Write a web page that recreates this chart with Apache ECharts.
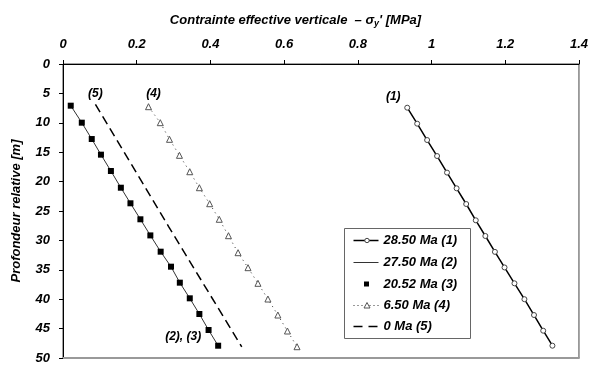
<!DOCTYPE html>
<html>
<head>
<meta charset="utf-8">
<script src="https://cdn.jsdelivr.net/npm/echarts@6/dist/echarts.min.js"></script>
<style>
  html, body { margin: 0; padding: 0; background: #fff; }
  #chart { width: 591px; height: 367px; }
</style>
</head>
<body>
<div id="chart"></div>
<script>
// values: stress [MPa] vs relative depth [m]
const depth1 = [7.43, 10.15, 12.93, 15.65, 18.47, 21.14, 23.81, 26.58, 29.25, 31.95, 34.6, 37.3, 40.0, 42.69, 45.36, 47.91];
const stress1 = [0.934, 0.961, 0.988, 1.015, 1.042, 1.068, 1.094, 1.120, 1.146, 1.172, 1.198, 1.225, 1.252, 1.278, 1.303, 1.328];

const depth2 = [7.09, 9.98, 12.76, 15.42, 18.2, 21.04, 23.69, 26.41, 29.15, 31.92, 34.47, 37.19, 39.85, 42.52, 45.24, 47.91];
const stress2 = [0.021, 0.051, 0.078, 0.103, 0.130, 0.157, 0.183, 0.210, 0.237, 0.265, 0.293, 0.317, 0.344, 0.370, 0.395, 0.421];

const depth3 = [7.09, 9.98, 12.76, 15.42, 18.2, 21.04, 23.69, 26.41, 29.15, 31.92, 34.47, 37.19, 39.85, 42.52, 45.24, 47.91];
const stress3 = [0.021, 0.051, 0.078, 0.103, 0.130, 0.157, 0.183, 0.210, 0.237, 0.265, 0.293, 0.317, 0.344, 0.370, 0.395, 0.421];

const depth4 = [7.26, 9.98, 12.81, 15.53, 18.32, 21.04, 23.76, 26.41, 29.2, 32.09, 34.64, 37.3, 39.97, 42.69, 45.41, 48.08];
const stress4 = [0.232, 0.264, 0.289, 0.316, 0.344, 0.370, 0.398, 0.424, 0.449, 0.475, 0.502, 0.529, 0.556, 0.583, 0.609, 0.635];

const depth5 = [6.86, 17.2, 27.7, 37.9, 48.1];
const stress5 = [0.088, 0.187, 0.287, 0.386, 0.485];

const seriesNames = ["28.50 Ma (1)", "27.50 Ma (2)", "20.52 Ma (3)", "6.50 Ma (4)", "0 Ma (5)"];
const xTicks = [0, 0.2, 0.4, 0.6, 0.8, 1, 1.2, 1.4];

const font = "'Liberation Sans', Arial, sans-serif";
const boldItalic = { fontFamily: font, fontWeight: "bold", fontStyle: "italic", color: "#000" };

function pairs(xs, ys) {
  return xs.map((x, i) => [x, ys[i]]);
}

// put a curve tag "(n)" next to one point of a series
function tagged(data, idx, text, offset) {
  return data.map((d, i) => i !== idx ? d : {
    value: d,
    label: Object.assign({
      show: true, formatter: text, position: "inside", offset: offset, fontSize: 12,
      textBorderWidth: 0, textBorderColor: "transparent", opacity: 1
    }, boldItalic)
  });
}

// hand-drawn legend box, like the spreadsheet one
const legX = 344, legY = 228, legW = 126, legH = 110;
const rowY = [12, 34, 55.5, 77, 98];
const iconL = 9, iconR = 34, textX = 39;
const legendParts = [
  { type: "rect", shape: { x: 0, y: 0, width: legW, height: legH }, style: { fill: "#fff", stroke: "#666", lineWidth: 1 } },
  { type: "line", shape: { x1: iconL, y1: rowY[0], x2: iconR, y2: rowY[0] }, style: { stroke: "#000", lineWidth: 1.5 } },
  { type: "circle", shape: { cx: 22.5, cy: rowY[0], r: 2.2 }, style: { fill: "#fff", stroke: "#444", lineWidth: 1 } },
  { type: "line", shape: { x1: iconL, y1: rowY[1], x2: iconR, y2: rowY[1] }, style: { stroke: "#333", lineWidth: 1 } },
  { type: "rect", shape: { x: 19.5, y: rowY[2] - 2.5, width: 5, height: 5 }, style: { fill: "#000" } },
  { type: "line", shape: { x1: iconL, y1: rowY[3], x2: iconR, y2: rowY[3] }, style: { stroke: "#333", lineWidth: 1, lineDash: [1, 3] } },
  { type: "polygon", shape: { points: [[22.5, rowY[3] - 3], [25.5, rowY[3] + 2.5], [19.5, rowY[3] + 2.5]] }, style: { fill: "#fff", stroke: "#555", lineWidth: 1 } },
  { type: "line", shape: { x1: iconL, y1: rowY[4], x2: iconR, y2: rowY[4] }, style: { stroke: "#000", lineWidth: 1.5, lineDash: [9, 6] } }
];
seriesNames.forEach((name, i) => {
  legendParts.push({
    type: "text", x: textX, y: rowY[i],
    style: { text: name, fontSize: 13, fill: "#000", verticalAlign: "middle", align: "left",
      fontFamily: font, fontWeight: "bold", fontStyle: "italic" }
  });
});

const chart = echarts.init(document.getElementById("chart"));

chart.setOption({
  animation: false,
  backgroundColor: "#fff",
  title: {
    text: "Contrainte effective verticale  – σ{s|y}' [MPa]",
    left: "center",
    top: 7,
    textStyle: Object.assign({ fontSize: 13 }, boldItalic, {
      rich: { s: Object.assign({ fontSize: 9, padding: [7, 0, 0, 0] }, boldItalic) }
    })
  },
  grid: {
    left: 63, top: 64, right: 6.5, bottom: 9,
    show: true, borderColor: "#444", borderWidth: 1
  },
  graphic: [{ type: "group", left: legX, top: legY, z: 100, children: legendParts }],
  xAxis: [{
    type: "value", position: "top",
    min: 0, max: 1.4, interval: 0.2,
    axisLine: { show: true, lineStyle: { color: "#000", width: 1 } },
    axisTick: { show: true, inside: false, length: 4, lineStyle: { color: "#000" } },
    splitLine: { show: false },
    axisLabel: Object.assign({
      margin: 13, fontSize: 13,
      formatter: v => String(xTicks.find(t => Math.abs(t - v) < 1e-9) ?? v)
    }, boldItalic)
  }, {
    type: "value", position: "bottom", min: 0, max: 1.4,
    axisLine: { show: true, lineStyle: { color: "#999", width: 2 } },
    axisTick: { show: false }, axisLabel: { show: false }, splitLine: { show: false }
  }],
  yAxis: {
    type: "value", inverse: true,
    min: 0, max: 50, interval: 5,
    name: "Profondeur relative [m]",
    nameLocation: "middle", nameGap: 40, nameRotate: 90,
    nameTextStyle: Object.assign({ fontSize: 13 }, boldItalic),
    axisLine: { show: true, lineStyle: { color: "#000", width: 1 } },
    axisTick: { show: true, inside: false, length: 4, lineStyle: { color: "#000" } },
    splitLine: { show: false },
    axisLabel: Object.assign({ margin: 13, fontSize: 13 }, boldItalic)
  },
  series: [
    {
      name: seriesNames[0], type: "line",
      data: tagged(pairs(stress1, depth1), 0, "(1)", [-14, -11]),
      symbol: "circle", symbolSize: 5, showAllSymbol: true,
      lineStyle: { color: "#000", width: 1.5 },
      itemStyle: { color: "#fff", borderColor: "#444", borderWidth: 1 },
      z: 3
    },
    {
      name: seriesNames[1], type: "line",
      data: pairs(stress2, depth2),
      symbol: "none",
      lineStyle: { color: "#333", width: 1 },
      z: 2
    },
    {
      name: seriesNames[2], type: "scatter",
      data: tagged(pairs(stress3, depth3), 15, "(2), (3)", [-35, -9]),
      symbol: "rect", symbolSize: 6,
      itemStyle: { color: "#000", opacity: 1 },
      z: 4
    },
    {
      name: seriesNames[3], type: "line",
      data: tagged(pairs(stress4, depth4), 0, "(4)", [5, -13]),
      symbol: "triangle", symbolSize: 6, showAllSymbol: true,
      lineStyle: { color: "#333", width: 1, type: [1, 4] },
      itemStyle: { color: "#fff", borderColor: "#555", borderWidth: 1 },
      z: 3
    },
    {
      name: seriesNames[4], type: "line",
      data: tagged(pairs(stress5, depth5), 0, "(5)", [0, -11]),
      symbol: "circle", symbolSize: 1, showAllSymbol: true,
      lineStyle: { color: "#000", width: 1.5, type: [9, 5] },
      itemStyle: { color: "rgba(0,0,0,0)", borderWidth: 0 },
      z: 3
    }
  ]
});
</script>
</body>
</html>
